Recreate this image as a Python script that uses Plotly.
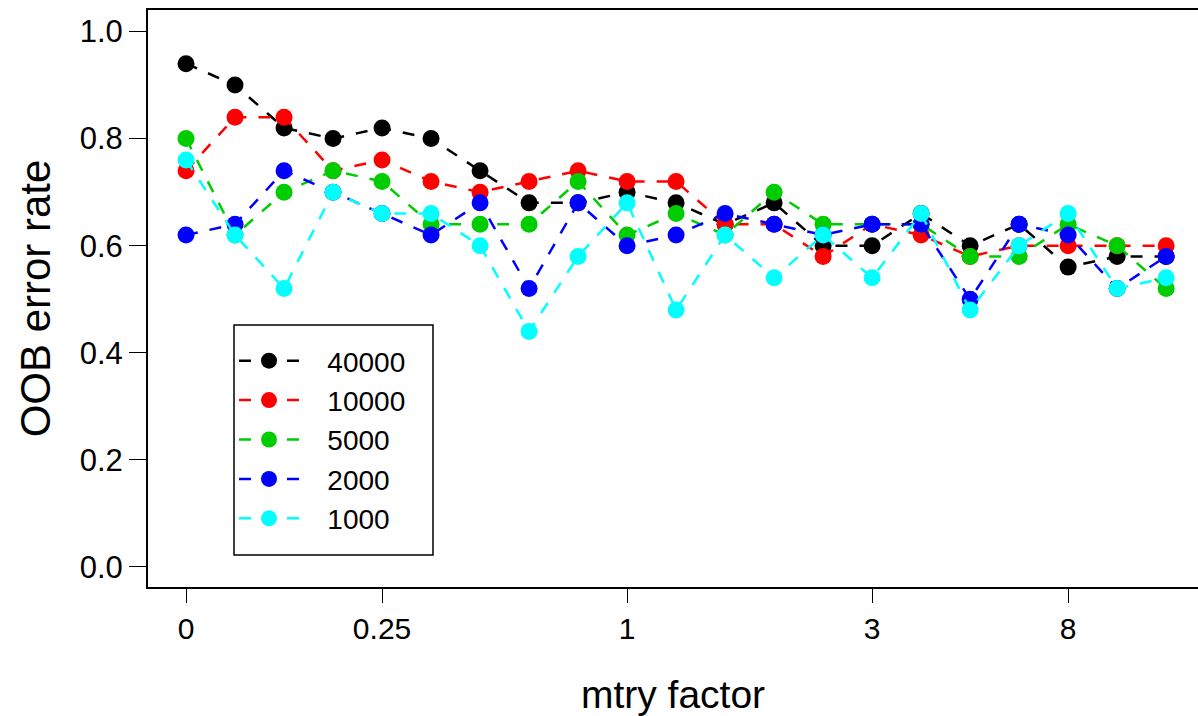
import plotly.graph_objects as go

# ---- data ----
x_index = list(range(21))
tick_positions = [0, 4, 9, 14, 18]
tick_labels = ["0", "0.25", "1", "3", "8"]

series_names = ["40000", "10000", "5000", "2000", "1000"]
series_colors = ["#000000", "#FF0000", "#00CD00", "#0000FF", "#00FFFF"]

err_40000 = [0.94, 0.90, 0.82, 0.80, 0.82, 0.80, 0.74, 0.68, 0.68, 0.70, 0.68,
             0.64, 0.68, 0.60, 0.60, 0.66, 0.60, 0.64, 0.56, 0.58, 0.58]
err_10000 = [0.74, 0.84, 0.84, 0.74, 0.76, 0.72, 0.70, 0.72, 0.74, 0.72, 0.72,
             0.64, 0.64, 0.58, 0.64, 0.62, 0.58, 0.60, 0.60, 0.60, 0.60]
err_5000 = [0.80, 0.62, 0.70, 0.74, 0.72, 0.64, 0.64, 0.64, 0.72, 0.62, 0.66,
            0.62, 0.70, 0.64, 0.64, 0.64, 0.58, 0.58, 0.64, 0.60, 0.52]
err_2000 = [0.62, 0.64, 0.74, 0.70, 0.66, 0.62, 0.68, 0.52, 0.68, 0.60, 0.62,
            0.66, 0.64, 0.62, 0.64, 0.64, 0.50, 0.64, 0.62, 0.52, 0.58]
err_1000 = [0.76, 0.62, 0.52, 0.70, 0.66, 0.66, 0.60, 0.44, 0.58, 0.68, 0.48,
            0.62, 0.54, 0.62, 0.54, 0.66, 0.48, 0.60, 0.66, 0.52, 0.54]
series_values = [err_40000, err_10000, err_5000, err_2000, err_1000]

y_ticks = [0.0, 0.2, 0.4, 0.6, 0.8, 1.0]

# ---- figure ----
W, H = 1198, 716
L, R, T, B = 148, 0, 10, 129
pw, ph = W - L - R, H - T - B

def px_x(p):
    return (p - L) / pw

def px_y(p):
    return (H - B - p) / ph

NB = "\u00a0"
fig = go.Figure()
for name, color, vals in zip(series_names, series_colors, series_values):
    fig.add_trace(go.Scatter(
        x=x_index, y=vals, mode="lines+markers",
        name=NB * 3 + name + NB * 3,
        line=dict(color=color, width=2.5, dash="12px,12px"),
        marker=dict(color=color, size=17, line=dict(width=0)),
    ))

sans = "Liberation Sans, Arial, sans-serif"

fig.update_layout(
    width=W, height=H,
    margin=dict(l=L, r=R, t=T, b=B, autoexpand=False),
    paper_bgcolor="white", plot_bgcolor="white",
    showlegend=True,
    legend=dict(
        x=px_x(234), y=px_y(336), xanchor="left", yanchor="top",
        bgcolor="rgba(0,0,0,0)", borderwidth=0,
        font=dict(family=sans, size=28, color="black"),
        itemwidth=60,
    ),
    xaxis=dict(
        range=[-0.776, 20.65],
        tickmode="array", tickvals=tick_positions, ticktext=tick_labels,
        ticks="outside", ticklen=14, tickwidth=1.2, tickcolor="black",
        showline=True, linecolor="black", linewidth=2, mirror=True,
        showgrid=False, zeroline=False,
        tickfont=dict(family=sans, size=30, color="black"),
        title=dict(text="mtry factor", standoff=39,
                   font=dict(family=sans, size=39, color="black")),
        automargin=False,
    ),
    yaxis=dict(
        range=[-0.0374, 1.0402],
        tickmode="array", tickvals=y_ticks, tickformat=".1f",
        ticks="outside", ticklen=17, tickwidth=1.2, tickcolor="black",
        showline=True, linecolor="black", linewidth=2, mirror=False,
        showgrid=False, zeroline=False,
        tickfont=dict(family=sans, size=31, color="black"),
        title=dict(text="OOB error rate", standoff=16,
                   font=dict(family=sans, size=42, color="black")),
        automargin=False,
    ),
    shapes=[dict(
        type="rect", xref="paper", yref="paper",
        x0=px_x(234), x1=px_x(433), y0=px_y(555), y1=px_y(325),
        line=dict(color="black", width=1.5), fillcolor="rgba(0,0,0,0)",
    )],
)

fig.write_html("out.html", config={"displayModeBar": False},
               post_script="document.body.style.margin='0px';")
